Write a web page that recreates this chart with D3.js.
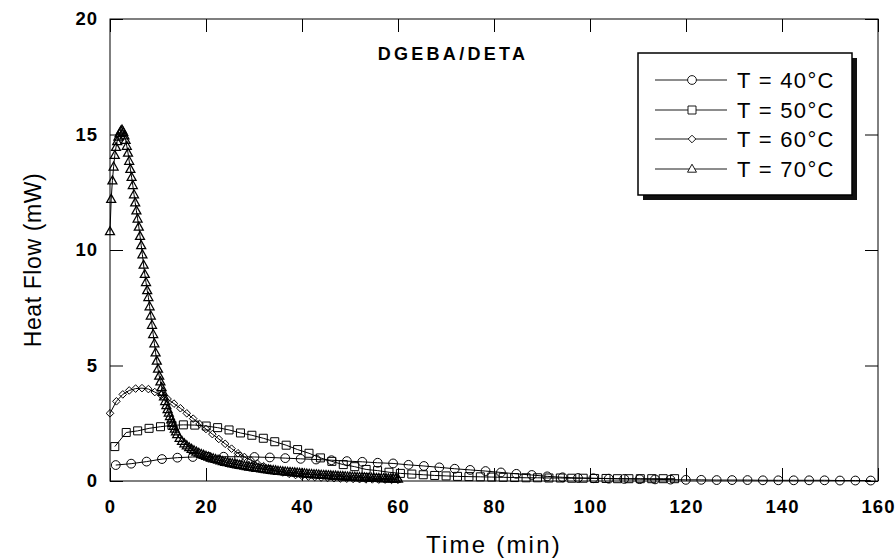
<!DOCTYPE html>
<html>
<head>
<meta charset="utf-8">
<script src="https://cdn.jsdelivr.net/npm/d3@7"></script>
<style>
  body { margin: 0; background: #fff; }
  svg { display: block; font-family: "Liberation Sans", Arial, sans-serif; }
</style>
</head>
<body>
<div id="chart"></div>
<script>
// Heat flow vs time, DGEBA/DETA isothermal cure

// sampling grids (min)
const t40_start = 1.2, t40_step = 3.21
const t50_start = 1.0, t50_step = 2.38
const t60_start = 0, t60_step = 1.333
// 70 C: denser sampling at start, 0.25 min up to 14 min, then 0.5 min
const t70 = d3.range(0, 14.01, 0.25).concat(d3.range(14.5, 60.01, 0.5))

const v40 = [0.69, 0.75, 0.84, 0.95, 1.01, 1.04, 1.05, 1.05, 1.05, 1.04,
             1.02, 0.99, 0.96, 0.93, 0.90, 0.86, 0.83, 0.79, 0.76, 0.70,
             0.65, 0.59, 0.53, 0.48, 0.43, 0.37, 0.31, 0.26, 0.20, 0.16,
             0.13, 0.12, 0.10, 0.09, 0.08, 0.07, 0.06, 0.05, 0.05, 0.04,
             0.04, 0.04, 0.03, 0.03, 0.03, 0.03, 0.03, 0.02, 0.02, 0.02]

const v50 = [1.49, 2.10, 2.17, 2.28, 2.35, 2.41, 2.43, 2.42, 2.38, 2.31,
             2.21, 2.08, 1.98, 1.85, 1.70, 1.55, 1.36, 1.20, 1.00, 0.85,
             0.71, 0.62, 0.50, 0.45, 0.38, 0.33, 0.30, 0.27, 0.24, 0.22,
             0.20, 0.19, 0.18, 0.17, 0.16, 0.15, 0.14, 0.14, 0.13, 0.13,
             0.12, 0.12, 0.11, 0.11, 0.10, 0.10, 0.10, 0.10, 0.10, 0.10]

const v60 = [2.93, 3.45, 3.75, 3.92, 4.00, 4.02, 3.98, 3.85, 3.72, 3.55,
             3.35, 3.15, 2.93, 2.70, 2.47, 2.25, 2.03, 1.82, 1.61, 1.40,
             1.20, 1.04, 0.90, 0.76, 0.64, 0.53, 0.44, 0.37, 0.31, 0.26,
             0.22, 0.19, 0.17, 0.15, 0.13, 0.12, 0.11, 0.10, 0.09, 0.08,
             0.07, 0.07, 0.06, 0.06, 0.05, 0.05]

const v70 = [10.8, 12.2, 13.0, 13.6, 14.1, 14.45, 14.7, 14.9, 15.05, 15.15,
             15.2, 15.1, 14.95, 14.75, 14.5, 14.2, 13.85, 13.5, 13.15, 12.8,
             12.4, 12.05, 11.7, 11.35, 11.0, 10.6, 10.2, 9.8, 9.35, 8.95,
             8.6, 8.25, 7.95, 7.55, 7.15, 6.75, 6.35, 5.95, 5.55, 5.2,
             4.85, 4.55, 4.3, 4.05, 3.85, 3.65, 3.45, 3.27, 3.1, 2.95,
             2.8, 2.65, 2.5, 2.37, 2.25, 2.13, 2.02,
             1.85, 1.72, 1.62, 1.53, 1.45, 1.38, 1.32, 1.26, 1.21, 1.16,
             1.12, 1.08, 1.04, 1.00, 0.97, 0.94, 0.91, 0.88, 0.85, 0.82,
             0.80, 0.77, 0.75, 0.73, 0.71, 0.69, 0.67, 0.65, 0.63, 0.61,
             0.60, 0.58, 0.56, 0.55, 0.53, 0.52, 0.50, 0.49, 0.47, 0.46,
             0.45, 0.43, 0.42, 0.41, 0.40, 0.39, 0.38, 0.37, 0.36, 0.35,
             0.34, 0.33, 0.32, 0.31, 0.30, 0.29, 0.28, 0.28, 0.27, 0.26,
             0.25, 0.25, 0.24, 0.23, 0.22, 0.22, 0.21, 0.20, 0.20, 0.19,
             0.18, 0.18, 0.17, 0.17, 0.16, 0.16, 0.15, 0.15, 0.14, 0.14,
             0.13, 0.13, 0.12, 0.12, 0.11, 0.11, 0.11, 0.10, 0.10, 0.10,
             0.09, 0.09]

const seriesNames = ["T = 40°C", "T = 50°C", "T = 60°C", "T = 70°C"]
const seriesShapes = ["circle", "square", "diamond", "triangle"]

const xTicks = [0, 20, 40, 60, 80, 100, 120, 140, 160]
const yTicks = [0, 5, 10, 15, 20]

// build point lists
const toPts = (start, step, vals) => vals.map((v, i) => [start + i * step, v])
const series = [
    toPts(t40_start, t40_step, v40),
    toPts(t50_start, t50_step, v50),
    toPts(t60_start, t60_step, v60),
    v70.map((v, i) => [t70[i], v])
]

const w = 895, h = 560
const padLeft = 110, padRight = 878, padTop = 19, padBottom = 481

const svg = d3.select("#chart").append("svg")
    .attr("width", w)
    .attr("height", h)

const xScale = d3.scaleLinear().domain([0, 160]).range([padLeft, padRight])
const yScale = d3.scaleLinear().domain([0, 20]).range([padBottom, padTop])

// marker path generator
function shapePath(type) {
    if (type == "circle") {
        const r = 4.4
        return `M${r},0A${r},${r} 0 1,1 ${-r},0A${r},${r} 0 1,1 ${r},0Z`
    }
    if (type == "square") {
        const s = 4.0
        return `M${-s},${-s}H${s}V${s}H${-s}Z`
    }
    if (type == "diamond") {
        const s = 3.8
        return `M0,${-s}L${s},0L0,${s}L${-s},0Z`
    }
    // triangle pointing up
    return "M0,-4.8L4.5,3.2L-4.5,3.2Z"
}

// axes (ticks inside on all four sides)
const tickLen = 13
const fontTick = 18.5

const xAxis = d3.axisBottom(xScale).tickValues(xTicks)
    .tickSizeInner(-tickLen).tickSizeOuter(0).tickPadding(19)
const xg = svg.append("g")
    .attr("transform", `translate(0,${padBottom})`)
    .call(xAxis)

const yAxis = d3.axisLeft(yScale).tickValues(yTicks)
    .tickSizeInner(-tickLen).tickSizeOuter(0).tickPadding(12)
const yg = svg.append("g")
    .attr("transform", `translate(${padLeft},0)`)
    .call(yAxis)

svg.append("g")
    .attr("transform", `translate(0,${padTop})`)
    .call(d3.axisTop(xScale).tickValues(xTicks).tickSizeInner(-tickLen).tickSizeOuter(0).tickFormat(""))
svg.append("g")
    .attr("transform", `translate(${padRight},0)`)
    .call(d3.axisRight(yScale).tickValues(yTicks).tickSizeInner(-tickLen).tickSizeOuter(0).tickFormat(""))

svg.selectAll(".domain").remove()
svg.selectAll(".tick line").attr("stroke", "#000").attr("stroke-width", 1)

;[xg, yg].forEach(g => {
    g.selectAll("text")
        .attr("fill", "#000")
        .attr("font-size", fontTick)
        .attr("font-weight", "bold")
        .attr("font-family", "Liberation Sans, Arial, sans-serif")
        .style("letter-spacing", "1px")
})

// plot frame
svg.append("rect")
    .attr("x", padLeft).attr("y", padTop)
    .attr("width", padRight - padLeft).attr("height", padBottom - padTop)
    .attr("fill", "none")
    .attr("stroke", "#000")
    .attr("stroke-width", 1)

// data lines and markers
const line = d3.line().x(d => xScale(d[0])).y(d => yScale(d[1]))

series.forEach((pts, si) => {
    svg.append("path")
        .datum(pts)
        .attr("d", line)
        .attr("fill", "none")
        .attr("stroke", "#000")
        .attr("stroke-width", 1)

    svg.append("g")
        .selectAll("path")
        .data(pts)
        .enter()
        .append("path")
            .attr("transform", d => `translate(${xScale(d[0])},${yScale(d[1])})`)
            .attr("d", shapePath(seriesShapes[si]))
            .attr("fill", "none")
            .attr("stroke", "#000")
            .attr("stroke-width", si == 3 ? 1.25 : 1)
})

// title inside the plot
svg.append("text")
    .attr("x", 453)
    .attr("y", 60)
    .attr("text-anchor", "middle")
    .attr("font-size", 18)
    .attr("font-weight", "bold")
    .style("letter-spacing", "3.3px")
    .text("DGEBA/DETA")

// legend box with drop shadow
const lx = 638, ly = 53, lw = 214, lh = 142
svg.append("rect")
    .attr("x", lx + 5).attr("y", ly + 5)
    .attr("width", lw).attr("height", lh)
    .attr("fill", "#111")
svg.append("rect")
    .attr("x", lx).attr("y", ly)
    .attr("width", lw).attr("height", lh)
    .attr("fill", "#fff")
    .attr("stroke", "#000")
    .attr("stroke-width", 1.5)

const legendRows = [80, 110, 139, 169]
seriesNames.forEach((name, i) => {
    const yy = legendRows[i]
    svg.append("line")
        .attr("x1", 655).attr("x2", 727)
        .attr("y1", yy).attr("y2", yy)
        .attr("stroke", "#000")
        .attr("stroke-width", 0.9)
    svg.append("path")
        .attr("transform", `translate(692,${yy})`)
        .attr("d", shapePath(seriesShapes[i]))
        .attr("fill", "#fff")
        .attr("stroke", "#000")
        .attr("stroke-width", 0.9)
    svg.append("text")
        .attr("x", 737)
        .attr("y", yy + 8)
        .attr("font-size", 22)
        .style("letter-spacing", "1.3px")
        .text(name)
})

// axis labels
svg.append("text")
    .attr("x", (padLeft + padRight) / 2)
    .attr("y", 553)
    .attr("text-anchor", "middle")
    .attr("font-size", 24)
    .style("letter-spacing", "2.2px")
    .text("Time (min)")

svg.append("text")
    .attr("text-anchor", "middle")
    .attr("transform", "translate(41,260) rotate(-90)")
    .attr("font-size", 23)
    .style("letter-spacing", "0.6px")
    .text("Heat Flow (mW)")
</script>
</body>
</html>
